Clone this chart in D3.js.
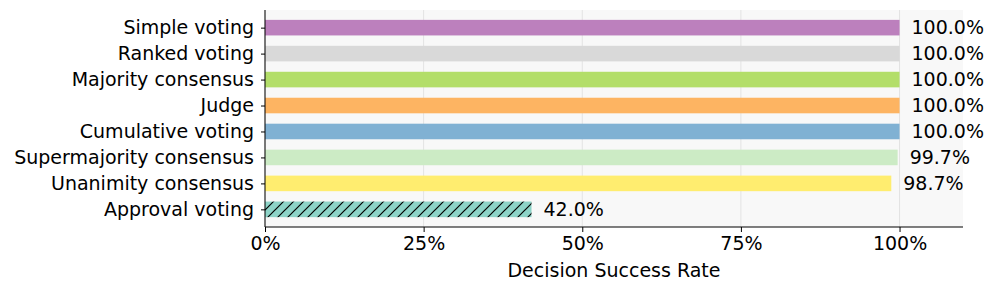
<!DOCTYPE html>
<html>
<head>
<meta charset="utf-8">
<script src="https://cdn.jsdelivr.net/npm/d3@7"></script>
<style>
  body { margin: 0; background: #fff; }
  text { font-family: "DejaVu Sans", sans-serif; fill: #000; }
</style>
</head>
<body>
<svg id="chart"></svg>
<script>
// Data
const methods = ["Simple voting", "Ranked voting", "Majority consensus", "Judge",
                 "Cumulative voting", "Supermajority consensus", "Unanimity consensus", "Approval voting"];
const successRates = [100.0, 100.0, 100.0, 100.0, 100.0, 99.7, 98.7, 42.0];
const barColors = ["#bc80bd", "#d9d9d9", "#b3de69", "#fdb462", "#80b1d3", "#ccebc5", "#ffed6f", "#8dd3c7"];
const hatched = [false, false, false, false, false, false, false, true];
const xTicks = [0, 25, 50, 75, 100];

(() => {
    const width = 997, height = 290;
    const margin = { top: 10, right: 34, bottom: 63, left: 265 };
    const innerW = width - margin.left - margin.right;
    const innerH = height - margin.top - margin.bottom;
    const fs = 19;

    const svg = d3.select("#chart").attr("width", width).attr("height", height);

    // hatch pattern for approval voting
    const defs = svg.append("defs");
    const pat = defs.append("pattern")
        .attr("id", "hatch")
        .attr("patternUnits", "userSpaceOnUse")
        .attr("width", 10).attr("height", 10);
    pat.append("rect").attr("width", 10).attr("height", 10).attr("fill", barColors[7]);
    pat.append("path")
        .attr("d", "M-2,12 L12,-2 M-2,2 L2,-2 M8,12 L12,8")
        .attr("stroke", "#000").attr("stroke-width", 1.2);

    const g = svg.append("g").attr("transform", `translate(${margin.left},${margin.top})`);

    // x scale: 0..110 (matplotlib margin)
    const x = d3.scaleLinear().domain([0, 110]).range([0, innerW]);
    // y as index with matplotlib-like padding
    const y = d3.scaleLinear().domain([-0.68, methods.length - 1 + 0.68]).range([0, innerH]);
    const barH = y(0.6) - y(0);

    // background
    g.append("rect").attr("width", innerW).attr("height", innerH).attr("fill", "#f8f8f8");

    // grid
    g.selectAll(".grid").data(xTicks).join("line")
        .attr("x1", d => x(d)).attr("x2", d => x(d))
        .attr("y1", 0).attr("y2", innerH)
        .attr("stroke", "#e3e3e3").attr("stroke-width", 1);

    // bars
    g.selectAll(".bar").data(methods).join("rect")
        .attr("x", 0)
        .attr("y", (d, i) => y(i) - barH / 2)
        .attr("width", (d, i) => x(successRates[i]))
        .attr("height", barH)
        .attr("fill", (d, i) => hatched[i] ? "url(#hatch)" : barColors[i]);

    // value labels
    g.selectAll(".val").data(methods).join("text")
        .attr("x", (d, i) => x(successRates[i]) + 12)
        .attr("y", (d, i) => y(i))
        .attr("dy", "0.35em")
        .attr("font-size", fs)
        .text((d, i) => successRates[i].toFixed(1) + "%");

    // y axis
    const yAxis = g.append("g")
        .call(d3.axisLeft(y).tickValues(d3.range(methods.length)).tickFormat(i => methods[i])
            .tickSize(4).tickPadding(7));
    yAxis.select(".domain").attr("stroke", "#000").attr("d", `M0,0V${innerH}`);
    yAxis.selectAll("text").attr("font-size", fs).attr("font-family", "DejaVu Sans, sans-serif");

    // x axis
    const xAxis = g.append("g").attr("transform", `translate(0,${innerH})`)
        .call(d3.axisBottom(x).tickValues(xTicks).tickFormat(d => d + "%").tickSize(5).tickPadding(5));
    xAxis.select(".domain").attr("stroke", "#000").attr("d", `M0,0H${innerW}`);
    xAxis.selectAll("text").attr("font-size", fs).attr("font-family", "DejaVu Sans, sans-serif");

    // x label
    g.append("text")
        .attr("x", innerW / 2).attr("y", innerH + 50)
        .attr("text-anchor", "middle")
        .attr("font-size", fs)
        .text("Decision Success Rate");
})();
</script>
</body>
</html>
